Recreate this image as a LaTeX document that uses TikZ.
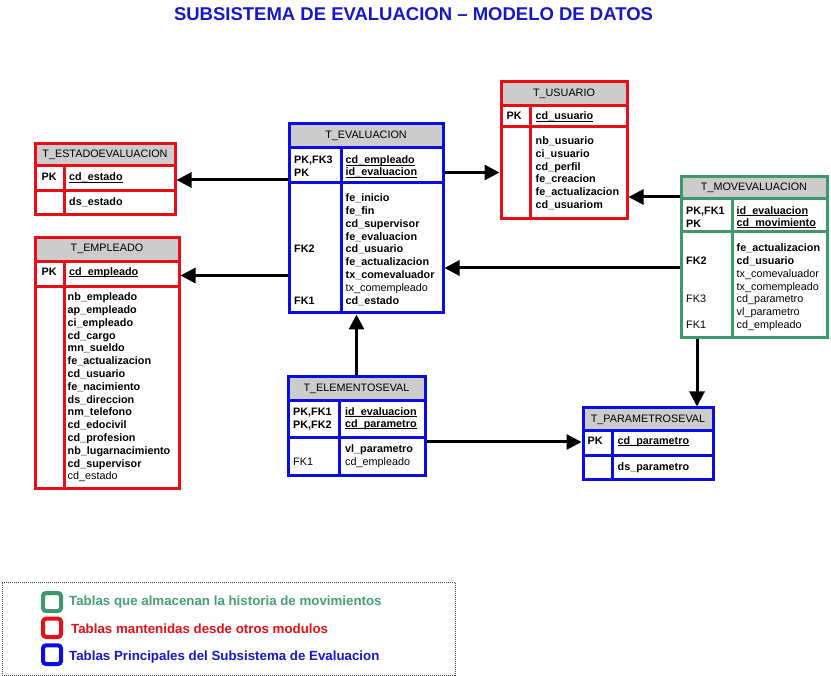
\documentclass[tikz,border=0pt]{standalone}
\usepackage{fontspec}
\setmainfont{Liberation Sans}
\usetikzlibrary{arrows.meta,fit}
\definecolor{rojo}{RGB}{232,14,22}
\definecolor{azul}{RGB}{12,12,228}
\definecolor{verde}{RGB}{62,152,108}
\definecolor{verdetxt}{RGB}{70,160,118}
\definecolor{gris}{RGB}{204,204,204}
\definecolor{titazul}{RGB}{22,22,205}
\tikzset{
  marco/.style={line width=3pt},
  cabecera/.style={inner sep=0pt, font=\fontsize{10.8}{13}\selectfont},
  campo/.style={anchor=west, inner sep=0pt, text height=8pt, text depth=2.5pt, font=\bfseries\fontsize{10.8}{13}\selectfont},
  rel/.style={line width=3pt, -{Triangle[length=15pt,width=15pt]}},
  leyenda/.style={anchor=west, inner sep=0pt, font=\bfseries\fontsize{13.3}{16}\selectfont},
  cuadro/.style={line width=4pt, rounded corners=3pt}
}
\newcommand{\clave}[1]{\underline{\smash{#1}}}
% tabla: nombre, color, x1, y1, x2, y2, fin cabecera, fin claves, divisor
\newcommand{\tabla}[9]{%
  \fill[gris] (#3,#4) rectangle (#5,#7);
  \node[fit={(#3,#4) (#5,#6)}, inner sep=0pt, draw=#2, marco] (#1) {};
  \draw[#2, marco] (#3,#7) -- (#5,#7) (#3,#8) -- (#5,#8) (#9,#7) -- (#9,#6);}
% campos seguidos: nombre, x, y primera linea, lista
\newcommand{\campos}[4]{%
  \foreach \txt [count=\k from 0] in {#4} {\node[campo] (#1-\k) at (#2,{#3+12.8*\k}) {\txt};}}
\begin{document}
\begin{tikzpicture}[x=1pt,y=-1pt]
\useasboundingbox (0,0) rectangle (831,676);
\node[font=\bfseries\fontsize{18.5}{22}\selectfont, text=titazul, inner sep=0pt] (titulo) at (413.5,14) {SUBSISTEMA DE EVALUACION – MODELO DE DATOS};

\tabla{estado}{rojo}{35}{144}{175}{215}{166}{190.5}{64}
\node[cabecera] (estado-t) at (105,155) {T\_ESTADOEVALUACION};
\node[campo] (estado-pk) at (41.5,178) {PK};
\node[campo] (estado-0) at (69,178) {\clave{cd\_estado}};
\node[campo] (estado-1) at (69,203) {ds\_estado};

\tabla{empleado}{rojo}{35}{238}{179}{489}{262}{287}{64}
\node[cabecera] (empleado-t) at (107,249) {T\_EMPLEADO};
\node[campo] (empleado-pk) at (41.5,272.5) {PK};
\node[campo] (empleado-id) at (69,272.5) {\clave{cd\_empleado}};
\campos{empleado}{67.5}{298}{nb\_empleado,ap\_empleado,ci\_empleado,cd\_cargo,mn\_sueldo,fe\_actualizacion,cd\_usuario,fe\_nacimiento,ds\_direccion,nm\_telefono,cd\_edocivil,cd\_profesion,nb\_lugarnacimiento,cd\_supervisor,\textmd{cd\_estado}}

\tabla{evaluacion}{azul}{289}{124}{443}{313}{148}{183}{341}
\node[cabecera] (evaluacion-t) at (366,136) {T\_EVALUACION};
\campos{evaluacion-k}{294}{161}{{PK,FK3},PK}
\node[campo] (evaluacion-id0) at (345.5,161) {\clave{cd\_empleado}};
\node[campo] (evaluacion-id1) at (345.5,173) {\clave{id\_evaluacion}};
\campos{evaluacion}{345.5}{199}{fe\_inicio,fe\_fin,cd\_supervisor,fe\_evaluacion,cd\_usuario,fe\_actualizacion,tx\_comevaluador,\textmd{tx\_comempleado},cd\_estado}
\foreach \k/\txt in {4/FK2,8/FK1} \node[campo] (evaluacion-fk\k) at (294,{199+12.8*\k}) {\txt};

\tabla{usuario}{rojo}{501}{82}{627}{219}{106}{127}{530}
\node[cabecera] (usuario-t) at (564,94) {T\_USUARIO};
\node[campo] (usuario-pk) at (506.5,117) {PK};
\node[campo] (usuario-id) at (535.5,117) {\clave{cd\_usuario}};
\campos{usuario}{535.5}{141.7}{nb\_usuario,ci\_usuario,cd\_perfil,fe\_creacion,fe\_actualizacion,cd\_usuariom}

\tabla{movevaluacion}{verde}{681}{177}{827}{338}{199}{232}{732}
\node[cabecera] (movevaluacion-t) at (754,188) {T\_MOVEVALUACION};
\campos{movevaluacion-k}{686}{211.5}{{PK,FK1},PK}
\node[campo] (movevaluacion-id0) at (736.5,211.5) {\clave{id\_evaluacion}};
\node[campo] (movevaluacion-id1) at (736.5,223.5) {\clave{cd\_movimiento}};
\campos{movevaluacion}{736.5}{249}{fe\_actualizacion,cd\_usuario,\textmd{tx\_comevaluador},\textmd{tx\_comempleado},\textmd{cd\_parametro},\textmd{vl\_parametro},\textmd{cd\_empleado}}
\foreach \k/\txt in {1/FK2,4/\textmd{FK3},6/\textmd{FK1}} \node[campo] (movevaluacion-fk\k) at (686,{249+12.8*\k}) {\txt};

\tabla{elementos}{azul}{288}{377}{425}{476}{401}{438}{339}
\node[cabecera] (elementos-t) at (356.5,389) {T\_ELEMENTOSEVAL};
\campos{elementos-k}{293}{412.5}{{PK,FK1},{PK,FK2}}
\node[campo] (elementos-id0) at (345,412.5) {\clave{id\_evaluacion}};
\node[campo] (elementos-id1) at (345,424.5) {\clave{cd\_parametro}};
\campos{elementos}{345}{450}{vl\_parametro,\textmd{cd\_empleado}}
\node[campo] (elementos-fk1) at (293,463) {\textmd{FK1}};

\tabla{parametros}{azul}{583}{408}{713}{480}{431}{456}{612}
\node[cabecera] (parametros-t) at (648,419.5) {T\_PARAMETROSEVAL};
\node[campo] (parametros-pk) at (587.5,441.5) {PK};
\node[campo] (parametros-0) at (617.5,441.5) {\clave{cd\_parametro}};
\node[campo] (parametros-1) at (617.5,468) {ds\_parametro};

\draw[rel] (evaluacion.west |- 0,180) -- (estado.east |- 0,180);
\draw[rel] (evaluacion.west |- 0,275.5) -- (empleado.east |- 0,275.5);
\draw[rel] (evaluacion.east |- 0,172.5) -- (usuario.west |- 0,172.5);
\draw[rel] (movevaluacion.west |- 0,197) -- (usuario.east |- 0,197);
\draw[rel] (movevaluacion.west |- 0,268) -- (evaluacion.east |- 0,268);
\draw[rel] (elementos.north -| 356.5,0) -- (evaluacion.south -| 356.5,0);
\draw[rel] (movevaluacion.south -| 697,0) -- (parametros.north -| 697,0);
\draw[rel] (elementos.east |- 0,442) -- (parametros.west |- 0,442);

\node[fit={(2,582) (455,675)}, inner sep=0pt, draw=black!75, line width=0.8pt, dash pattern=on 1pt off 1pt] (leyenda) {};
\draw[cuadro, verde] (43,593) rectangle (61,611);
\node[font=\fontsize{6}{6}\selectfont, inner sep=0pt] (marca) at (49.5,596.5) {`};
\draw[cuadro, rojo] (43,618.7) rectangle (61,637);
\draw[cuadro, azul] (43,645.3) rectangle (61,664);
\node[leyenda, text=verdetxt] (ley-verde) at (69,602.3) {Tablas que almacenan la historia de movimientos};
\node[leyenda, text=rojo] (ley-rojo) at (71,629) {Tablas mantenidas desde otros modulos};
\node[leyenda, text=titazul] (ley-azul) at (69,657) {Tablas Principales del Subsistema de Evaluacion};
\end{tikzpicture}
\end{document}
